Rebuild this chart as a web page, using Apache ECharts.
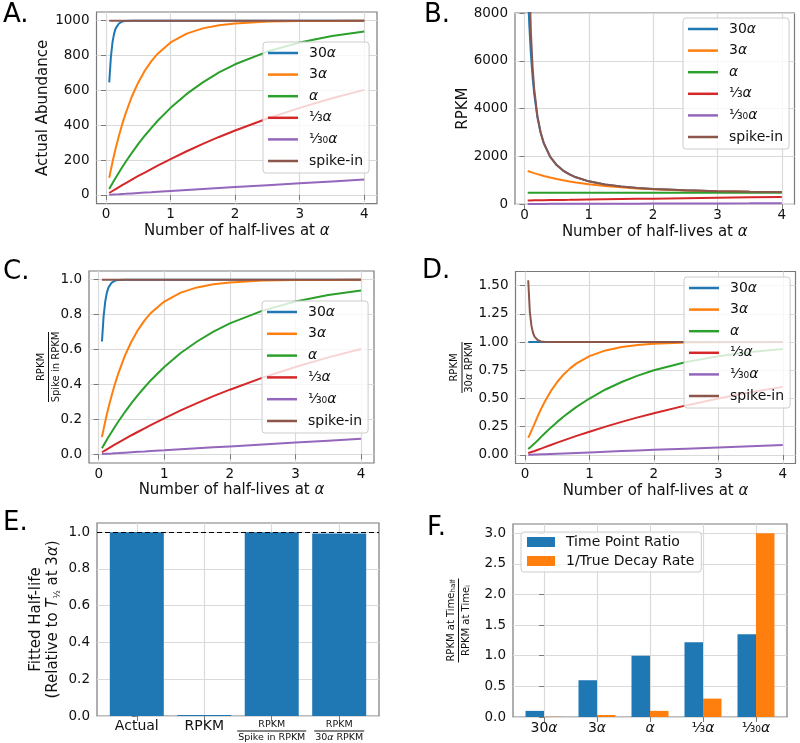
<!DOCTYPE html>
<html><head><meta charset="utf-8">
<script src="https://cdn.jsdelivr.net/npm/echarts@6/dist/echarts.min.js"></script>
<style>html,body{margin:0;padding:0;background:#fff}#c{width:800px;height:743px}</style>
</head><body><div id="c"></div>
<script>
// ---------- data ----------
const xs = [0.05,0.075,0.1,0.125,0.15,0.2,0.25,0.3,0.4,0.5,0.6,0.7,0.8,1.0,1.25,1.5,1.75,2.0,2.5,3.0,3.5,4.0];
const lineNames = ['30α','3α','α','¹⁄₃α','¹⁄₃₀α','spike-in'];

// A. actual abundance
const abund30 = [646,790,875,926,956,984,995,998,1000,1000,1000,1000,1000,1000,1000,1000,1000,1000,1000,1000,1000,1000];
const abund3 = [99,144,188,229,268,340,405,464,565,646,713,767,811,875,926,956,974,984,995,998,999,1000];
const abund1 = [34,51,67,83,99,129,159,188,242,293,340,384,426,500,580,646,703,750,823,875,912,938];
const abundThird = [11.5,17.2,22.8,28.5,34.1,45.2,56.1,67.0,88.3,109,129,149,169,206,251,293,333,370,439,500,555,603];
const abundThirtieth = [1.2,1.7,2.3,2.9,3.5,4.6,5.8,6.9,9.2,11.5,13.8,16.0,18.3,22.8,28.5,34.1,39.7,45.2,56.1,67.0,77.7,88.3];
const abundSpike = [1000,1000,1000,1000,1000,1000,1000,1000,1000,1000,1000,1000,1000,1000,1000,1000,1000,1000,1000,1000,1000,1000];

// B. RPKM
const rpkm30 = [9101,7477,6269,5353,4643,3651,3000,2552,1983,1639,1411,1249,1128,960,828,743,683,640,583,549,527,512];
const rpkm3 = [1391,1367,1345,1324,1302,1262,1223,1187,1120,1059,1005,957,914,840,767,710,665,630,580,548,526,512];
const rpkm1 = [478,478,478,478,478,478,478,478,478,478,478,478,478,478,478,478,478,478,478,478,478,478];
const rpkmThird = [162,163,163,165,166,168,169,171,175,179,183,186,190,198,208,218,227,237,256,274,292,309];
const rpkmThirtieth = [16.3,16.4,16.5,16.7,16.8,17.1,17.4,17.7,18.2,18.8,19.4,20.0,20.6,21.9,23.6,25.3,27.1,28.9,32.7,36.8,40.9,45.2];
const rpkmSpike = [14080,9467,7164,5783,4858,3709,3017,2557,1983,1639,1411,1249,1128,960,828,743,683,640,583,549,527,512];

// C. RPKM / spike-in RPKM
const spikeNorm30 = [0.646,0.790,0.875,0.926,0.956,0.984,0.995,0.998,1,1,1,1,1,1,1,1,1,1,1,1,1,1];
const spikeNorm3 = [0.099,0.144,0.188,0.229,0.268,0.340,0.405,0.464,0.565,0.646,0.713,0.767,0.811,0.875,0.926,0.956,0.974,0.984,0.995,0.998,0.999,1.0];
const spikeNorm1 = [0.034,0.051,0.067,0.083,0.099,0.129,0.159,0.188,0.242,0.293,0.340,0.384,0.426,0.500,0.580,0.646,0.703,0.750,0.823,0.875,0.912,0.938];
const spikeNormThird = [0.0115,0.0172,0.0228,0.0285,0.0341,0.0452,0.0561,0.067,0.0883,0.109,0.129,0.149,0.169,0.206,0.251,0.293,0.333,0.370,0.439,0.500,0.555,0.603];
const spikeNormThirtieth = [0.0012,0.0017,0.0023,0.0029,0.0035,0.0046,0.0058,0.0069,0.0092,0.0115,0.0138,0.0160,0.0183,0.0228,0.0285,0.0341,0.0397,0.0452,0.0561,0.0670,0.0777,0.0883];
const spikeNormSpike = [1,1,1,1,1,1,1,1,1,1,1,1,1,1,1,1,1,1,1,1,1,1];

// D. RPKM / 30α RPKM
const refNorm30 = [1,1,1,1,1,1,1,1,1,1,1,1,1,1,1,1,1,1,1,1,1,1];
const refNorm3 = [0.153,0.183,0.215,0.247,0.280,0.346,0.408,0.465,0.565,0.646,0.713,0.767,0.811,0.875,0.926,0.956,0.974,0.984,0.995,0.998,0.999,1.0];
const refNorm1 = [0.053,0.064,0.077,0.090,0.103,0.131,0.160,0.188,0.242,0.293,0.340,0.384,0.426,0.500,0.580,0.646,0.703,0.750,0.823,0.875,0.912,0.938];
const refNormThird = [0.0178,0.0218,0.0261,0.0308,0.0357,0.0459,0.0564,0.0671,0.0883,0.109,0.129,0.149,0.169,0.206,0.251,0.293,0.333,0.370,0.439,0.500,0.555,0.603];
const refNormThirtieth = [0.0018,0.0022,0.0026,0.0031,0.0036,0.0047,0.0058,0.0069,0.0092,0.0115,0.0138,0.0160,0.0183,0.0228,0.0285,0.0341,0.0397,0.0452,0.0561,0.0670,0.0777,0.0883];
const refNormSpike = [1.547,1.266,1.143,1.080,1.046,1.016,1.006,1.002,1,1,1,1,1,1,1,1,1,1,1,1,1,1];

// E. fitted half-life
const eCategories = ['Actual','RPKM',['RPKM','Spike in RPKM'],['RPKM','30α RPKM']];
const eValues = [1.0, 0.005, 1.0, 0.993];

// F. time point ratio
const fCategories = ['30α','3α','α','¹⁄₃α','¹⁄₃₀α'];
const fRatio = [0.10, 0.60, 1.00, 1.22, 1.35];
const fDecay = [0.0033, 0.033, 0.10, 0.30, 3.00];

// tick values
const lineXTicks = [0,1,2,3,4];
const aYTicks = [0,200,400,600,800,1000];
const bYTicks = [0,2000,4000,6000,8000];
const cYTicks = [0,0.2,0.4,0.6,0.8,1.0];
const dYTicks = [0,0.25,0.5,0.75,1.0,1.25,1.5];
const eYTicks = [0,0.2,0.4,0.6,0.8,1.0];
const fYTicks = [0,0.5,1.0,1.5,2.0,2.5,3.0];

// ---------- styling ----------
const FONT = 'DejaVu Sans';
const TXT = '#111111';
const FRAME = '#7a7a7a';
const GRIDC = '#dadada';
const colors = ['#1f77b4','#ff7f0e','#2ca02c','#d62728','#9467bd','#8c564b'];
const ital = s => s.replace(/α/g, '{i|α}');

const grids = [
  {left:96.5, top:12, width:280.5, height:191.7},
  {left:515, top:13, width:279.5, height:191.3},
  {left:89, top:271, width:285, height:192},
  {left:515.5, top:271.5, width:280, height:192},
  {left:97, top:523, width:282, height:193},
  {left:513, top:524, width:274, height:193}
].map(g => Object.assign({show:true, borderColor:FRAME, borderWidth:1.2, backgroundColor:'transparent', containLabel:false, outerBoundsMode:'none'}, g));

const tickFont = {fontSize:13.5, fontFamily:FONT, color:TXT};
const italRich = (fs) => ({i:{fontStyle:'italic', fontSize:fs, fontFamily:FONT, color:TXT}});

function lineXAxis(gi){
  return {
    type:'value', gridIndex:gi, min:-0.1475, max:4.1975,
    axisLine:{show:false},
    axisTick:{show:true, customValues:lineXTicks, length:5, lineStyle:{color:FRAME}},
    axisLabel:Object.assign({customValues:lineXTicks, margin:4, formatter:v => String(v)}, tickFont),
    splitLine:{show:true, lineStyle:{color:GRIDC, width:1.2}},
    name:'Number of half-lives at {i|α}', nameLocation:'middle', nameGap:20, nameMoveOverlap:false,
    nameTextStyle:{fontSize:15, fontFamily:FONT, color:TXT, rich:italRich(15)}
  };
}
function yAxisCfg(gi, min, max, ticks, fmt, name, nameGap, nameStyle){
  return {
    type:'value', gridIndex:gi, min:min, max:max,
    axisLine:{show:false},
    axisTick:{show:true, customValues:ticks, length:5, lineStyle:{color:FRAME}},
    axisLabel:Object.assign({customValues:ticks, margin:7, formatter:fmt}, tickFont),
    splitLine:{show:true, lineStyle:{color:GRIDC, width:1.2}},
    name:name, nameLocation:'middle', nameRotate:90, nameGap:nameGap, nameMoveOverlap:false,
    nameTextStyle:nameStyle
  };
}
const fracRich = {
  n:{fontSize:10, fontFamily:FONT, color:TXT, lineHeight:12},
  ni:{fontSize:10, fontFamily:FONT, color:TXT, lineHeight:12, fontStyle:'italic'},
  sub:{fontSize:7, fontFamily:FONT, color:TXT, lineHeight:12, verticalAlign:'bottom'},
  b1:{width:70, height:1, lineHeight:3, backgroundColor:TXT},
  b2:{width:51, height:1, lineHeight:3, backgroundColor:TXT},
  b3:{width:84, height:1, lineHeight:3, backgroundColor:TXT}
};

const xAxes = [
  lineXAxis(0), lineXAxis(1), lineXAxis(2), lineXAxis(3),
  {
    type:'value', gridIndex:4, min:-0.59, max:3.59,
    axisLine:{show:false},
    axisTick:{show:true, customValues:[0,1,2,3], length:5, lineStyle:{color:FRAME}},
    axisLabel:Object.assign({customValues:[0,1,2,3], margin:3,
      formatter:v => { const c = eCategories[Math.round(v)];
        if (Array.isArray(c)) {
          const den = c[1].replace(/α/g, '}{fi|α}{f|');
          return '{f|' + c[0] + '}\n{' + (Math.round(v) === 2 ? 'fb1' : 'fb2') + '|}\n{f|' + den + '}';
        }
        return c; },
      rich:{
        f:{fontSize:9.5, fontFamily:FONT, color:TXT, lineHeight:10.5},
        fi:{fontSize:9.5, fontFamily:FONT, color:TXT, lineHeight:10.5, fontStyle:'italic'},
        fb1:{width:69, height:1, lineHeight:3, backgroundColor:TXT},
        fb2:{width:50, height:1, lineHeight:3, backgroundColor:TXT}
      }}, tickFont, {fontSize:14}),
    splitLine:{show:true, lineStyle:{color:GRIDC, width:1.2}}
  },
  {
    type:'value', gridIndex:5, min:-0.585, max:4.585,
    axisLine:{show:false},
    axisTick:{show:true, customValues:[0,1,2,3,4], length:5, lineStyle:{color:FRAME}},
    axisLabel:Object.assign({customValues:[0,1,2,3,4], margin:4,
      formatter:v => ital(fCategories[Math.round(v)]), rich:italRich(14)}, tickFont, {fontSize:14}),
    splitLine:{show:true, lineStyle:{color:GRIDC, width:1.2}}
  }
];

const yAxes = [
  yAxisCfg(0, -50, 1050, aYTicks, v => String(v), 'Actual Abundance', 46, {fontSize:15, fontFamily:FONT, color:TXT}),
  yAxisCfg(1, 0, 8000, bYTicks, v => String(v), 'RPKM', 44, {fontSize:15, fontFamily:FONT, color:TXT}),
  yAxisCfg(2, -0.05, 1.05, cYTicks, v => v.toFixed(1), '{n|RPKM}\n{b1|}\n{n|Spike in RPKM}', 27, {fontSize:10, fontFamily:FONT, color:TXT, rich:fracRich}),
  yAxisCfg(3, -0.0755, 1.6247, dYTicks, v => v.toFixed(2), '{n|RPKM}\n{b2|}\n{n|30}{ni|α}{n| RPKM}', 40, {fontSize:10, fontFamily:FONT, color:TXT, rich:fracRich}),
  yAxisCfg(4, 0, 1.05, eYTicks, v => v.toFixed(1), 'Fitted Half-life\n(Relative to {i|T}{s|½} at 3{i|α})', 35,
    {fontSize:15, lineHeight:17, fontFamily:FONT, color:TXT, rich:{
      i:{fontStyle:'italic', fontSize:15, lineHeight:17, fontFamily:FONT, color:TXT},
      s:{fontSize:8.5, lineHeight:17, fontFamily:FONT, color:TXT, verticalAlign:'bottom'}}}),
  yAxisCfg(5, 0, 3.15, fYTicks, v => v.toFixed(1), '{n|RPKM at Time}{sub|half}\n{b3|}\n{n|RPKM at Time}{sub|i}', 41, {fontSize:10, fontFamily:FONT, color:TXT, rich:fracRich})
];

// ---------- series ----------
const panelSets = [
  [abund30, abund3, abund1, abundThird, abundThirtieth, abundSpike],
  [rpkm30, rpkm3, rpkm1, rpkmThird, rpkmThirtieth, rpkmSpike],
  [spikeNorm30, spikeNorm3, spikeNorm1, spikeNormThird, spikeNormThirtieth, spikeNormSpike],
  [refNorm30, refNorm3, refNorm1, refNormThird, refNormThirtieth, refNormSpike]
];
const series = [];
panelSets.forEach((sets, gi) => {
  sets.forEach((vals, si) => {
    series.push({
      type:'line', name:lineNames[si], xAxisIndex:gi, yAxisIndex:gi,
      data: xs.map((x, k) => [x, vals[k]]),
      symbol:'none', showSymbol:false, smooth:false, clip:true,
      color:colors[si], itemStyle:{color:colors[si]}, lineStyle:{width:2, color:colors[si]}
    });
  });
});
series.push({
  type:'bar', name:'Fitted', xAxisIndex:4, yAxisIndex:4,
  data: eValues.map((v, i) => [i, v]), barWidth:54,
  itemStyle:{color:'#1f77b4'},
  markLine:{silent:true, symbol:'none', label:{show:false},
    lineStyle:{color:'#000', type:[5,3], width:1.2}, data:[{yAxis:1.0}]}
});
series.push({
  type:'bar', name:'Time Point Ratio', xAxisIndex:5, yAxisIndex:5,
  data: fRatio.map((v, i) => [i, v]), barWidth:18.5, barGap:'0%', itemStyle:{color:'#1f77b4'}
});
series.push({
  type:'bar', name:'1/True Decay Rate', xAxisIndex:5, yAxisIndex:5,
  data: fDecay.map((v, i) => [i, v]), barWidth:18.5, barGap:'0%', itemStyle:{color:'#ff7f0e'}
});

// ---------- legends ----------
function lineLegend(left, top, gap){
  return {
    orient:'vertical', left:left, top:top, data:lineNames,
    icon:'rect', itemWidth:30, itemHeight:2.5, itemGap:gap, padding:[3,6,4,5],
    backgroundColor:'rgba(255,255,255,0.8)', borderColor:'#cccccc', borderWidth:1, borderRadius:3,
    selectedMode:false,
    formatter: n => '{sp|}' + ital(n),
    textStyle:{fontSize:14, fontFamily:FONT, color:TXT, lineHeight:16,
      rich:{i:{fontStyle:'italic', fontSize:14, fontFamily:FONT, color:TXT, lineHeight:16}, sp:{width:6}}}
  };
}
const legends = [
  lineLegend(263, 42, 5.6),
  lineLegend(683, 18, 5.6),
  lineLegend(262, 301, 5.8),
  lineLegend(684, 277, 5.6),
  {
    orient:'vertical', left:521, top:532, data:['Time Point Ratio','1/True Decay Rate'],
    icon:'rect', itemWidth:28, itemHeight:10, itemGap:5, padding:[3,7,4,6],
    backgroundColor:'rgba(255,255,255,0.8)', borderColor:'#cccccc', borderWidth:1, borderRadius:3,
    selectedMode:false,
    formatter: n => '{sp|}' + n,
    textStyle:{fontSize:14, fontFamily:FONT, color:TXT, lineHeight:14, rich:{sp:{width:6}}}
  }
];

const titleStyle = {fontSize:26, fontWeight:'normal', fontFamily:FONT, color:'#000'};
const titles = [
  {text:'A.', left:3, top:2}, {text:'B.', left:424, top:2},
  {text:'C.', left:3, top:259}, {text:'D.', left:422, top:258},
  {text:'E.', left:3, top:510}, {text:'F.', left:427, top:515}
].map(t => Object.assign({padding:0, textStyle:titleStyle}, t));

const chart = echarts.init(document.getElementById('c'), null, {renderer:'canvas'});
chart.setOption({
  animation:false,
  backgroundColor:'#ffffff',
  title:titles,
  grid:grids,
  xAxis:xAxes,
  yAxis:yAxes,
  legend:legends,
  series:series
});
</script>
</body></html>
